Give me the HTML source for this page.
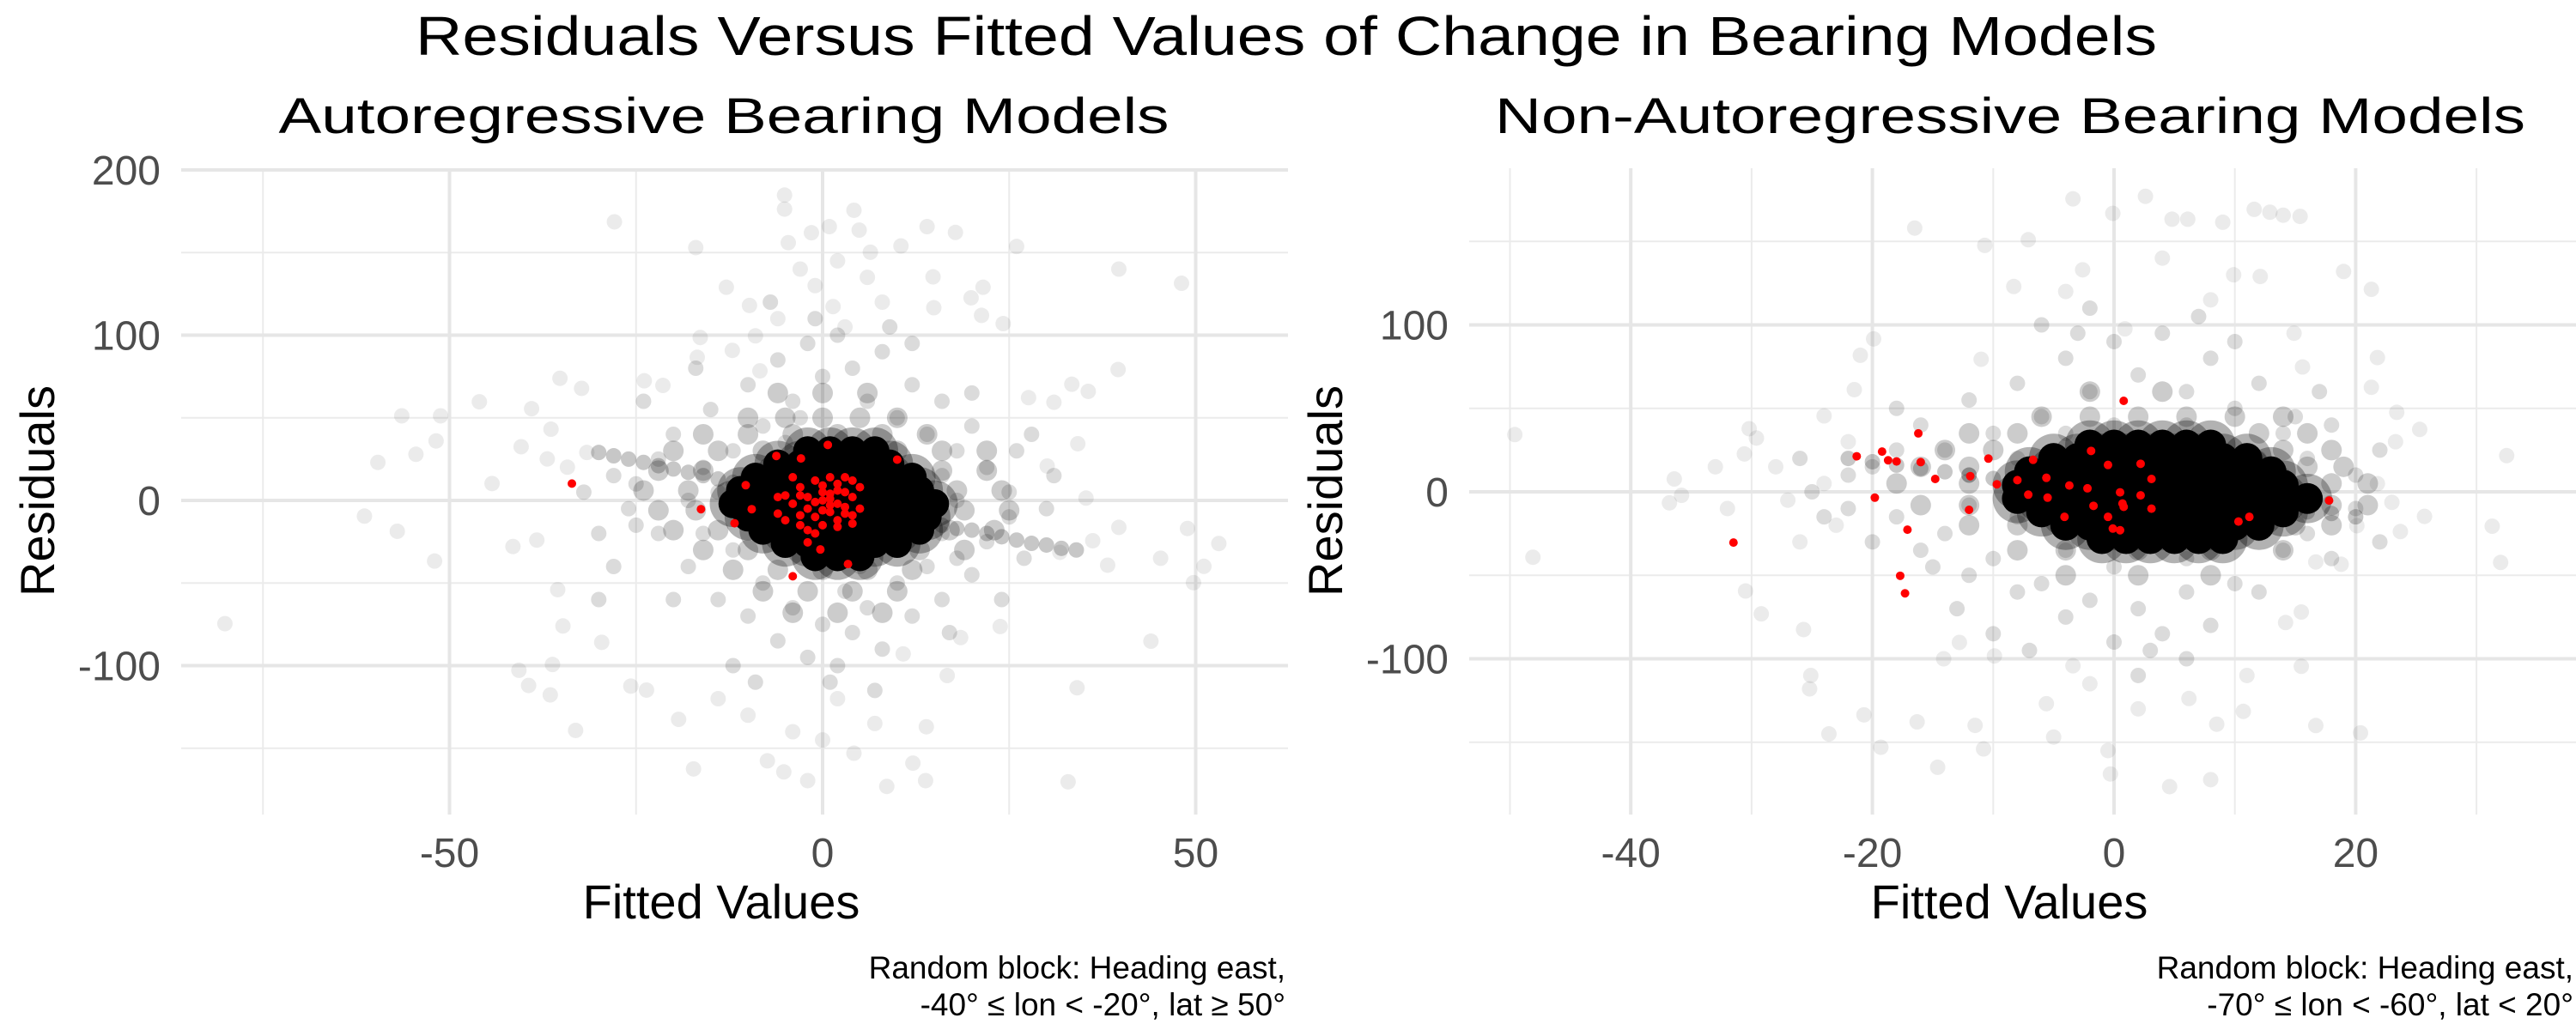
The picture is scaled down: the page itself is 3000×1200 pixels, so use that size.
<!DOCTYPE html>
<html><head><meta charset="utf-8"><style>
html,body{margin:0;padding:0;background:#fff;}
svg{display:block;font-family:"Liberation Sans",sans-serif;}
</style></head><body>
<svg id="chart" width="3000" height="1200" viewBox="0 0 3000 1200" xmlns="http://www.w3.org/2000/svg">
<rect width="3000" height="1200" fill="#fff"/>
<text x="1498" y="64" font-size="64" text-anchor="middle" textLength="2028" lengthAdjust="spacingAndGlyphs">Residuals Versus Fitted Values of Change in Bearing Models</text>
<text x="843" y="155" font-size="58" text-anchor="middle" textLength="1037" lengthAdjust="spacingAndGlyphs">Autoregressive Bearing Models</text>
<text x="2341" y="155" font-size="58" text-anchor="middle" textLength="1200" lengthAdjust="spacingAndGlyphs">Non-Autoregressive Bearing Models</text>
<g id="left"></g>
<g id="right"></g>
</svg>
<script>
// ---- Left panel data ----
const leftXTicks=[-50,0,50];
const leftXMinor=[-75,-25,25];
const leftYTicks=[200,100,0,-100];
const leftYMinor=[150,50,-50,-150];
const leftOutliers=[[-80.1,-74.6],[-61.4,-9.5],[-57,-18.7],[-59.6,23],[-56.4,51.2],[-51.2,51.2],[-51.8,36],[-52,-36.7],[-54.5,27.9],[-46,59.7],[-44.3,10.2],[-40.7,-102.8],[-39.4,-112],[-36.5,-117.7],[-33.1,-139.2],[-36.2,-99.3],[-35.2,73.9],[-32.3,67.8],[-27.9,168.6],[-17,153],[-12.9,129],[-9.8,118],[-5.1,184.8],[-5.1,176.3],[-4.6,156],[-1.5,162],[0.9,165.7],[4.2,175.6],[4.9,163.6],[14,165.7],[17.8,162.2],[26,153.7],[39.7,140],[48.1,131.4],[39.6,79.2],[33.4,70.3],[35.6,66],[27.6,62.2],[31,59.4],[34.2,34.3],[30.1,20.8],[35.3,1.4],[39.7,-16.3],[36.2,-24.4],[31.8,-31.4],[38.2,-39.2],[45.3,-35],[48.9,-17],[53.1,-26.1],[51.1,-39.9],[49.7,-49.8],[44,-85.2],[34.1,-113.4],[32.9,-170.3],[13.8,-169.6],[8.6,-173.1],[12.1,-159],[-2,-169.6],[-5.2,-164.3],[-7.4,-157.6],[-17.3,-162.5],[-19.3,-132.5],[-25.7,-112.4],[-23.6,-114.8],[-29.6,-85.9],[-34.8,-76],[-35.5,-54],[-41.5,-27.9],[-38.3,-24],[-39,55.5],[-36.4,43.1],[-40.4,32.5],[-36.9,25.1],[-34.2,20.1],[-31.6,29],[4.2,-153],[13.9,-137],[16.7,-106],[23.8,-76.3],[18.5,-83],[10.8,-92.9],[21.5,129],[19.9,122.6],[21.3,112],[24.2,107],[14.8,135.3],[14.9,116.6],[10.5,154],[6.4,150.2],[1.4,117.3],[-9,99.6],[-16.4,98.6],[-16.8,86.6],[-12.1,90.8],[-8.4,78.4],[-21.4,69.6],[-23.9,72.4],[-3,140],[-1,130],[2,145],[6,135],[8,120],[-6,110],[3,105],[-10,-130],[-4,-140],[2,-120],[7,-135],[-14,-120],[0,-145]];
const leftMid=[[-20,40],[-18,-40],[-15,55],[-14,-60],[-12,30],[-12,-30],[-10,70],[-10,-70],[-8,45],[-8,-50],[-6,85],[-6,-85],[-4,60],[-4,-65],[-2,95],[-2,-95],[0,75],[0,-75],[2,100],[2,-100],[4,80],[4,-80],[6,60],[6,-65],[8,90],[8,-90],[10,50],[10,-50],[12,70],[12,-70],[14,40],[14,-40],[16,60],[16,-60],[18,30],[18,-35],[20,45],[20,-45],[22,20],[22,-25],[-22,25],[-22,-20],[-25,10],[-25,-15],[25,5],[25,-10],[-18,0],[18,0],[-16,20],[-16,-20],[16,15],[16,-20],[-3,50],[3,-55],[-1,110],[1,-110],[-7,120],[7,-115],[12,95],[-12,-100],[-28,-40],[28,40],[-30,-60],[-24,60],[24,-60],[-5,35],[5,-40],[-10,15],[10,-15],[-14,5],[14,-5],[-26,-5],[-28,15],[26,30],[27,-35],[-20,-60],[20,65],[-17,80],[17,-80],[-9,-110],[9,105],[-32,5],[-30,-20],[30,-5],[31,15]];
const leftStreak=[[-30,29],[-28,27],[-26,25],[-24,23],[-22,21],[-20,19],[-18,17],[-16,15],[-14,13],[-12,11],[-10,9],[14,-13],[16,-15],[18,-17],[20,-18],[22,-20],[24,-22],[26,-24],[28,-26],[30,-27],[32,-29],[34,-30]];
const leftCore=[[-2,30],[1,30],[4,30],[7,30],
[-6,22],[-3,22],[0,22],[3,22],[6,22],[9,22],
[-9,14],[-6,14],[-3,14],[0,14],[3,14],[6,14],[9,14],[12,14],
[-11,6],[-8,6],[-5,6],[-2,6],[1,6],[4,6],[7,6],[10,6],[13,6],
[-12,-2],[-9,-2],[-6,-2],[-3,-2],[0,-2],[3,-2],[6,-2],[9,-2],[12,-2],[15,-2],
[-10,-10],[-7,-10],[-4,-10],[-1,-10],[2,-10],[5,-10],[8,-10],[11,-10],[14,-10],
[-8,-18],[-5,-18],[-2,-18],[1,-18],[4,-18],[7,-18],[10,-18],[13,-18],
[-5,-26],[-2,-26],[1,-26],[4,-26],[7,-26],[10,-26],
[-1,-34],[2,-34],[5,-34]];
const leftHalo=[[-10,50],[-5,50],[0,50],[5,50],[10,50],
[-16,40],[-10,40],[-4,40],[2,40],[8,40],[14,40],
[-20,30],[-14,30],[-8,30],[10,30],[16,30],[22,30],
[-22,18],[-16,18],[16,18],[22,18],
[-24,6],[-18,6],[18,6],[24,6],
[-22,-6],[-17,-6],[19,-6],[25,-6],
[-20,-18],[-14,-18],[17,-18],[23,-18],
[-16,-30],[-10,-30],[13,-30],[19,-30],
[-12,-42],[-6,-42],[0,-42],[6,-42],[12,-42],
[-8,-55],[-2,-55],[4,-55],[10,-55],
[-6,65],[0,65],[6,65],[-4,-68],[2,-68],[8,-68]];
const leftRed=[[-33.6,10.2],[-16.3,-5.3],[-11.8,-13.8],[-9.5,-5.3],[-10.3,9.2],[-6.2,26.9],[-2.9,25.4],[0.7,33.6],[10,24.7],[-4,-45.9],[3.4,-38.5],[-0.3,-29.7],[-2,-25.4],[-5,3],[-4,-2],[-3,8],[-2,-5],[-1,12],[0,5],[1,-3],[2,10],[3,-8],[4,2],[-6,-8],[-5,-12],[-3,-15],[-1,-10],[0,-15],[1,14],[2,-12],[3,5],[4,-14],[5,8],[4,12],[-2,2],[-1,-1],[0,0],[1,4],[2,-2],[3,-4],[-4,14],[-3,-9],[0,9],[1,-7],[2,6],[-1,-20],[0,-6],[1,1],[5,-5],[4,-9],[-6,2],[-2,-18],[3,14],[-3,3],[2,-16]];
// ---- Right panel data ----
const rightXTicks=[-40,-20,0,20];
const rightXMinor=[-50,-30,-10,10,30];
const rightYTicks=[100,0,-100];
const rightYMinor=[150,50,-50,-150];
const rightOutliers=[[-49.6,34.3],[-48.1,-39.2],[-36.4,7.7],[-36.8,-6.6],[-35.8,-2.1],[-30.5,-59.4],[-29.2,-73.1],[-30.2,37.8],[-29.6,32.2],[-30.6,22.7],[-25.7,-82.5],[-25.1,-110],[-25.2,-118],[-23.6,-145],[-20.7,-133.6],[-19.3,-153],[-14.6,-165],[-16.3,-137.8],[-11.5,-139.9],[-10.8,-154],[-16.5,158],[-10.7,147.6],[-8.3,123],[-7.1,151],[-3.4,175.5],[2.6,177],[-0.1,166.8],[4.8,163.3],[6.1,163.3],[9,161.5],[11.6,169.2],[12.9,167.5],[15.4,165],[14,165.7],[19,132],[21.3,121.3],[14.9,95],[15.6,74.8],[21.8,80.4],[21.3,62.6],[23.4,47.6],[25.3,37.4],[23.3,30],[32.5,21.7],[21.8,4.9],[23,-6.3],[25.7,-14.7],[23.7,-23.8],[20.1,-20.3],[31.3,-20.6],[32,-42.3],[18.8,-43.4],[16.7,-42],[15.5,-72],[14.2,-78.3],[15.5,-104.5],[20.4,-144.4],[16.7,-140],[10.7,-131.5],[8,-172.4],[4.6,-176.6],[-0.3,-169],[-0.5,-155],[8.5,-139.2],[6.2,-123.8],[-5,-146.9],[-5.6,-126.9],[-3.4,-104.2],[-9.9,-98.3],[-14.1,-100],[-12.8,-90.2],[-19.9,91.6],[-21,81.8],[-21.5,61.2],[-24,45.5],[-11,79.4],[-2.6,133],[12.1,129],[9.9,130],[0.9,97.6],[-28,15],[-27,-5],[-26,-30],[-24,5],[-23,-20],[-22,30],[-32,-10],[-33,15],[4,140],[-4,120],[8,115],[2,-130],[-2,-115],[11,-110]];
const rightMid=[[-20,15],[-18,-15],[-16,40],[-16,-35],[-14,25],[-14,-25],[-12,55],[-12,-50],[-10,35],[-10,-40],[-8,65],[-8,-60],[-6,45],[-6,-55],[-4,80],[-4,-75],[-2,60],[-2,-65],[0,90],[0,-90],[2,70],[2,-70],[4,95],[4,-85],[6,60],[6,-60],[8,80],[8,-80],[10,50],[10,-55],[12,65],[12,-60],[14,35],[14,-35],[16,20],[16,-25],[18,40],[18,-40],[-22,10],[-22,-10],[-18,25],[-24,-15],[20,10],[20,-10],[-6,100],[6,-100],[-2,110],[2,-110],[10,90],[-10,-85],[-8,20],[-8,-15],[12,20],[12,-25],[-12,10],[-12,-8],[14,10],[14,-12],[-26,20],[-15,-45],[15,45],[0,40],[0,-45],[6,40],[6,-40],[-4,35],[-4,-35],[-20,-30],[-18,50],[-25,0],[22,25],[22,-30],[-7,-95],[7,105],[3,-95],[-3,95],[17,60],[-13,-70]];
const rightStreak=[[-22,20],[-20,18],[-18,16],[-16,14],[-14,12],[-12,10],[-10,8],[12,-10],[14,-11],[16,-12],[18,-13],[20,-15]];
const rightCore=[[-2,28],[0,28],[2,28],[4,28],[6,28],[8,28],
[-5,20],[-3,20],[-1,20],[1,20],[3,20],[5,20],[7,20],[9,20],[11,20],
[-7,12],[-5,12],[-3,12],[-1,12],[1,12],[3,12],[5,12],[7,12],[9,12],[11,12],[13,12],
[-8,4],[-6,4],[-4,4],[-2,4],[0,4],[2,4],[4,4],[6,4],[8,4],[10,4],[12,4],[14,4],
[-8,-4],[-6,-4],[-4,-4],[-2,-4],[0,-4],[2,-4],[4,-4],[6,-4],[8,-4],[10,-4],[12,-4],[14,-4],[16,-4],
[-6,-12],[-4,-12],[-2,-12],[0,-12],[2,-12],[4,-12],[6,-12],[8,-12],[10,-12],[12,-12],[14,-12],
[-4,-20],[-2,-20],[0,-20],[2,-20],[4,-20],[6,-20],[8,-20],[10,-20],[12,-20],
[-1,-28],[1,-28],[3,-28],[5,-28],[7,-28],[9,-28]];
const rightHalo=[[-6,45],[-2,45],[2,45],[6,45],[10,45],[14,45],
[-12,35],[-8,35],[12,35],[16,35],
[-14,25],[-10,25],[14,25],[18,25],
[-16,15],[-12,15],[16,15],[19,15],
[-18,5],[-12,5],[18,5],[21,5],
[-16,-8],[-12,-8],[18,-8],[21,-8],
[-12,-20],[-8,-20],[15,-20],[18,-20],
[-8,-35],[-4,-35],[2,-35],[8,-35],[14,-35],
[-4,-50],[2,-50],[8,-50],[-2,60],[4,60]];
const rightRed=[[-31.5,-30.4],[-21.3,21.3],[-19.2,24.1],[-18.7,18.9],[-18,18.2],[-19.8,-3.5],[-16.2,35],[-16,17.8],[-17.1,-22.7],[-17.7,-50.3],[-17.3,-60.8],[-14.8,7.7],[-11.9,9.4],[-12,-10.8],[-10.4,19.9],[-9.7,4.5],[-8,7],[-7.1,-1.7],[-6.7,19.2],[-5.6,8.4],[-5.5,-3.5],[-4.1,-15],[-3.7,3.8],[-2.2,2.1],[-1.9,24.5],[-1.7,-8.4],[-0.5,-15],[-0.5,16.1],[-0.1,-22],[0.5,-0.3],[0.5,-23],[0.7,-7],[0.8,-9],[0.8,54.5],[2.2,-2.1],[2.2,16.8],[3.1,7.7],[3.1,-10.1],[10.3,-17.8],[11.2,-15],[17.8,-5.2]];

const NS="http://www.w3.org/2000/svg";
function mk(tag,attrs,parent){const e=document.createElementNS(NS,tag);for(const k in attrs)e.setAttribute(k,attrs[k]);parent.appendChild(e);return e;}

function drawPanel(g,o){
  const sx=v=>o.x0+o.kx*v, sy=v=>o.y0-o.ky*v;
  o.yMinor.forEach(v=>{const l=mk('line',{x1:o.left,x2:o.right,y1:sy(v),y2:sy(v),stroke:'#ebebeb','stroke-width':2},g);
    
    });
  o.xMinor.forEach(v=>{const l=mk('line',{x1:sx(v),x2:sx(v),y1:o.top,y2:o.bottom,stroke:'#ebebeb','stroke-width':2},g);
    
    });
  o.yTicks.forEach(v=>{const l=mk('line',{x1:o.left,x2:o.right,y1:sy(v),y2:sy(v),stroke:'#e6e6e6','stroke-width':4},g);
    
    
    const t=mk('text',{x:o.left-24,y:sy(v)+17,'font-size':48,fill:'#4d4d4d','text-anchor':'end'},g);t.textContent=v;
    
    });
  o.xTicks.forEach(v=>{const l=mk('line',{x1:sx(v),x2:sx(v),y1:o.top,y2:o.bottom,stroke:'#e6e6e6','stroke-width':4},g);
    
    
    const t=mk('text',{x:sx(v),y:1010,'font-size':48,fill:'#4d4d4d','text-anchor':'middle'},g);t.textContent=v;
    
    });
  const pts=(arr,r,op,fill,name)=>arr.forEach(p=>{const c=mk('circle',{cx:sx(p[0]),cy:sy(p[1]),r:r,fill:fill,'fill-opacity':op},g);
    
    });
  pts(o.outliers,9,0.08,'#000','residual-point');
  pts(o.mid,9,0.14,'#000','residual-point');
  pts(o.halo,12,0.2,'#000','residual-point');
  pts(o.streak,9,0.22,'#000','residual-point');
  pts(o.core,o.coreR*1.6,0.3,'#000','residual-core-halo');
  pts(o.core,o.coreR,1,'#000','residual-core-point');
  pts(o.red,5,1,'#ff0000','highlighted-point');
  const yt=mk('text',{x:0,y:0,'font-size':56,'text-anchor':'middle',transform:`translate(${o.ytx},572) rotate(-90)`},g);yt.textContent='Residuals';
  
  
  const xt=mk('text',{x:o.xtx,y:1070,'font-size':56,'text-anchor':'middle'},g);xt.textContent='Fitted Values';
  
  
  o.caption.forEach((s,i)=>{const c=mk('text',{x:o.capx,y:1140+i*43,'font-size':37,'text-anchor':'end'},g);c.textContent=s;
    
    });
}
drawPanel(document.getElementById('left'),{x0:958,kx:8.69,y0:583,ky:1.925,left:211,right:1500,top:196,bottom:949,
  xTicks:leftXTicks,xMinor:leftXMinor,yTicks:leftYTicks,yMinor:leftYMinor,outliers:leftOutliers,mid:leftMid,halo:leftHalo,streak:leftStreak,core:leftCore,coreR:17,red:leftRed,
  ytx:63,xtx:840,capx:1497,caption:['Random block: Heading east,','-40° ≤ lon < -20°, lat ≥ 50°']});
drawPanel(document.getElementById('right'),{x0:2462,kx:14.07,y0:573,ky:1.945,left:1711,right:3000,top:196,bottom:949,
  xTicks:rightXTicks,xMinor:rightXMinor,yTicks:rightYTicks,yMinor:rightYMinor,outliers:rightOutliers,mid:rightMid,halo:rightHalo,streak:rightStreak,core:rightCore,coreR:18,red:rightRed,
  ytx:1563,xtx:2340,capx:2997,caption:['Random block: Heading east,','-70° ≤ lon < -60°, lat < 20°']});
</script>
</body></html>
